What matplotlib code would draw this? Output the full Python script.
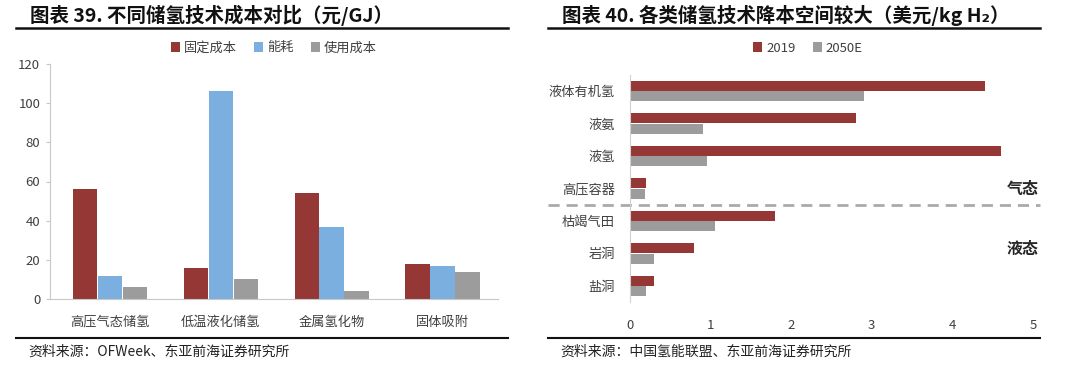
import numpy as np
import matplotlib
matplotlib.use('Agg')
import matplotlib.pyplot as plt
from matplotlib.lines import Line2D

plt.rcParams['font.family'] = ['Noto Sans CJK SC', 'DejaVu Sans']

# left chart data: storage cost (yuan/GJ)
methods = ['高压气态储氢', '低温液化储氢', '金属氢化物', '固体吸附']
fixed_cost = [56, 16, 54, 18]
energy_cost = [12, 106, 37, 17]
usage_cost = [6, 10, 4, 14]
left_series = ['固定成本', '能耗', '使用成本']

# right chart data: cost (USD/kg H2), listed bottom to top
techs = ['盐洞', '岩洞', '枯竭气田', '高压容器', '液氢', '液氨', '液体有机氢']
cost_2019 = [0.3, 0.8, 1.8, 0.2, 4.6, 2.8, 4.4]
cost_2050 = [0.2, 0.3, 1.05, 0.18, 0.95, 0.9, 2.9]
right_series = ['2019', '2050E']

red = '#953735'
blue = '#7aafdf'
grey = '#9c9c9c'
txt = '#404040'
W, H = 1080, 365

fig = plt.figure(figsize=(10.8, 3.65), dpi=100)

def fx(px):
    return px / W

def fy(py):
    return 1 - py / H

# ---- left chart ----
ax1 = fig.add_axes([fx(50), fy(299), fx(448), fy(64) - fy(299)])
x = np.arange(len(methods))
bw = 0.22
step = 0.225
b1 = ax1.bar(x - step, fixed_cost, bw, color=red, label=left_series[0])
b2 = ax1.bar(x, energy_cost, bw, color=blue, label=left_series[1])
b3 = ax1.bar(x + step, usage_cost, bw, color=grey, label=left_series[2])
ax1.set_xlim(-0.54, 3.5)
ax1.set_ylim(0, 120)
ax1.set_yticks(range(0, 121, 20))
ax1.set_xticks(x)
ax1.set_xticklabels(methods)
for s in ['top', 'right']:
    ax1.spines[s].set_visible(False)
ax1.spines['left'].set_color('#c8c8c8')
ax1.spines['bottom'].set_color('#c8c8c8')
ax1.tick_params(axis='y', length=3, color='#c8c8c8', labelsize=9.5, labelcolor=txt, pad=4)
ax1.tick_params(axis='x', length=0, labelsize=9.5, labelcolor=txt, pad=12)
fig.legend(handles=[b1, b2, b3], loc='center', bbox_to_anchor=(fx(274), fy(48)),
           ncol=3, frameon=False, fontsize=9.5, handlelength=0.7, handleheight=0.7,
           handletextpad=0.3, columnspacing=1.3, labelcolor=txt)

# ---- right chart ----
ax2 = fig.add_axes([fx(630), fy(302), fx(403), fy(75) - fy(302)])
y = np.arange(len(techs))
bh = 0.31
r1 = ax2.barh(y + 0.16, cost_2019, bh, color=red, label=right_series[0])
r2 = ax2.barh(y - 0.16, cost_2050, bh, color=grey, label=right_series[1])
ax2.set_xlim(0, 5)
ax2.set_ylim(-0.5, 6.5)
ax2.set_yticks(y)
ax2.set_yticklabels(techs)
ax2.set_xticks(range(0, 6))
for s in ['top', 'right', 'bottom']:
    ax2.spines[s].set_visible(False)
ax2.spines['left'].set_color('#d0d0d0')
ax2.tick_params(axis='y', length=0, labelsize=9.5, labelcolor=txt, pad=11)
ax2.tick_params(axis='x', length=0, labelsize=9.5, labelcolor=txt, pad=12)
ax2.axhline(2.5, xmin=(548 - 630) / 403, xmax=(1040 - 630) / 403, color='#aaaaaa',
            lw=2, ls=(0, (4, 2.5)), clip_on=False)
ax2.text(0.975, 3.0, '气态', transform=ax2.get_yaxis_transform(), ha='center', va='center',
         fontsize=11.5, fontweight='bold', color='#262626')
ax2.text(0.975, 1.15, '液态', transform=ax2.get_yaxis_transform(), ha='center', va='center',
         fontsize=11.5, fontweight='bold', color='#262626')
fig.legend(handles=[r1, r2], loc='center', bbox_to_anchor=(fx(808), fy(48)),
           ncol=2, frameon=False, fontsize=9.5, handlelength=0.7, handleheight=0.7,
           handletextpad=0.3, columnspacing=1.3, labelcolor=txt)

# ---- titles, rules and sources ----
fig.text(fx(30), fy(15), '图表 39. 不同储氢技术成本对比（元/GJ）', ha='left', va='center',
         fontsize=14, fontweight='bold', color='#111111')
fig.text(fx(562), fy(15), '图表 40. 各类储氢技术降本空间较大（美元/kg H₂）', ha='left', va='center',
         fontsize=14, fontweight='bold', color='#111111')
for x0, x1 in [(16, 508), (548, 1040)]:
    fig.add_artist(Line2D([fx(x0), fx(x1)], [fy(28), fy(28)], color='#111111', lw=1.8))
    fig.add_artist(Line2D([fx(x0), fx(x1)], [fy(338), fy(338)], color='#111111', lw=1.5))
fig.text(fx(28), fy(352), '资料来源：OFWeek、东亚前海证券研究所', ha='left', va='center',
         fontsize=10, color='#222222')
fig.text(fx(560), fy(352), '资料来源：中国氢能联盟、东亚前海证券研究所', ha='left', va='center',
         fontsize=10, color='#222222')

fig.savefig('out.png', dpi=100)
